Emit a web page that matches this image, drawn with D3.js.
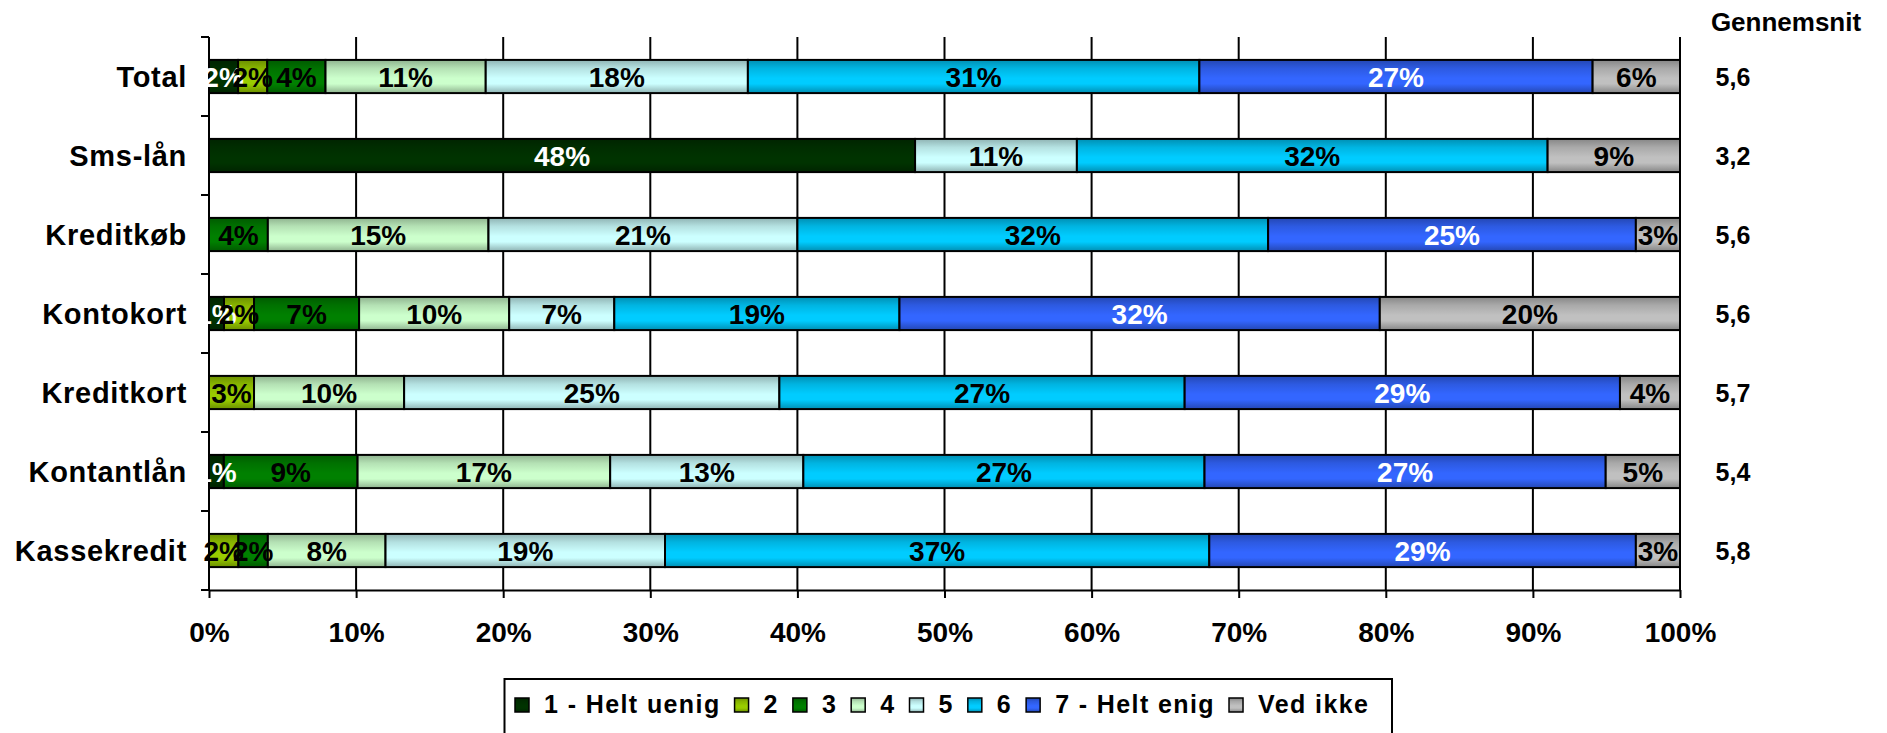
<!DOCTYPE html>
<html>
<head>
<meta charset="utf-8">
<script src="https://cdn.jsdelivr.net/npm/d3@7"></script>
<style>
  body { margin: 0; background: #fff; }
  svg { display: block; }
  text { font-family: "Liberation Sans", Arial, sans-serif; font-weight: bold; fill: #000; }
</style>
</head>
<body>
<svg id="chart" width="1887" height="733"></svg>
<script>
// ---------- data ----------
const categories = ["Total", "Sms-lån", "Kreditkøb", "Kontokort", "Kreditkort", "Kontantlån", "Kassekredit"];
const seriesNames = ["1 - Helt uenig", "2", "3", "4", "5", "6", "7 - Helt enig", "Ved ikke"];
const s1 = [2, 48, 0, 1, 0, 1, 0];
const s2 = [2, 0, 0, 2, 3, 0, 2];
const s3 = [4, 0, 4, 7, 0, 9, 2];
const s4 = [11, 0, 15, 10, 10, 17, 8];
const s5 = [18, 11, 21, 7, 25, 13, 19];
const s6 = [31, 32, 32, 19, 27, 27, 37];
const s7 = [27, 0, 25, 32, 29, 27, 29];
const sVedIkke = [6, 9, 3, 20, 4, 5, 3];
const averages = ["5,6", "3,2", "5,6", "5,6", "5,7", "5,4", "5,8"];
const averageTitle = "Gennemsnit";
const xTickValues = [0, 0.1, 0.2, 0.3, 0.4, 0.5, 0.6, 0.7, 0.8, 0.9, 1];
const seriesColors = ["#003300", "#99cc00", "#008000", "#ccffcc", "#ccffff", "#00ccff", "#3366ff", "#c0c0c0"];
const whiteLabelSeries = [0, 6];

// ---------- build table ----------
const seriesValues = [s1, s2, s3, s4, s5, s6, s7, sVedIkke];
const rows = categories.map((c, i) => {
  const r = { category: c };
  seriesNames.forEach((s, j) => { r[s] = seriesValues[j][i]; });
  return r;
});
const stacked = d3.stack().keys(seriesNames).offset(d3.stackOffsetExpand)(rows);

// ---------- layout ----------
const svg = d3.select("#chart");
const plotLeft = 209, plotRight = 1680, plotTop = 37, plotBottom = 590;

const x = d3.scaleLinear().domain([0, 1]).range([plotLeft, plotRight]);
const y = d3.scaleBand().domain(categories).range([plotTop, plotBottom])
  .paddingInner(0.58).paddingOuter(0.29);

// gradients
const defs = svg.append("defs");
seriesColors.forEach((col, i) => {
  const g = defs.append("linearGradient").attr("id", "grad" + i)
    .attr("x1", 0).attr("y1", 0).attr("x2", 0).attr("y2", 1);
  const dark = d3.color(col).darker(1.0).formatHex();
  const mid = d3.color(col).darker(0.35).formatHex();
  g.append("stop").attr("offset", "0%").attr("stop-color", dark);
  g.append("stop").attr("offset", "25%").attr("stop-color", mid);
  g.append("stop").attr("offset", "55%").attr("stop-color", col);
  g.append("stop").attr("offset", "72%").attr("stop-color", col);
  g.append("stop").attr("offset", "100%").attr("stop-color", dark);
});

// gridlines
svg.append("g").selectAll("line")
  .data(xTickValues.filter(d => d > 0))
  .join("line")
  .attr("x1", d => x(d)).attr("x2", d => x(d))
  .attr("y1", plotTop).attr("y2", plotBottom)
  .attr("stroke", "#000").attr("stroke-width", 2);

// x axis
const xAxis = svg.append("g")
  .attr("transform", `translate(0,${plotBottom})`)
  .call(d3.axisBottom(x).tickValues(xTickValues).tickFormat(d3.format(".0%"))
    .tickSizeInner(8).tickSizeOuter(0).tickPadding(24));
xAxis.select(".domain").attr("stroke", "#000").attr("stroke-width", 2);
xAxis.selectAll(".tick line").attr("stroke", "#000").attr("stroke-width", 2);
xAxis.selectAll(".tick text").attr("font-size", 28).attr("fill", "#000")
  .style("font-family", '"Liberation Sans", Arial, sans-serif').style("font-weight", "bold");

// y axis (line + ticks at band boundaries)
const yAxisG = svg.append("g");
yAxisG.append("line")
  .attr("x1", plotLeft).attr("x2", plotLeft)
  .attr("y1", plotTop).attr("y2", plotBottom)
  .attr("stroke", "#000").attr("stroke-width", 2);
const boundaries = d3.range(categories.length + 1).map(i => plotTop + i * y.step());
yAxisG.selectAll("line.tick").data(boundaries).join("line")
  .attr("class", "tick")
  .attr("x1", plotLeft - 8).attr("x2", plotLeft)
  .attr("y1", d => d).attr("y2", d => d)
  .attr("stroke", "#000").attr("stroke-width", 2);
yAxisG.selectAll("text").data(categories).join("text")
  .attr("x", 187)
  .attr("y", d => y(d) + y.bandwidth() / 2)
  .attr("dy", "0.36em")
  .attr("text-anchor", "end")
  .attr("font-size", 29)
  .style("letter-spacing", "0.7px")
  .text(d => d);

// bars
const layers = svg.append("g").selectAll("g")
  .data(stacked).join("g")
  .attr("fill", (d, i) => `url(#grad${i})`);
layers.selectAll("rect")
  .data(d => d.filter(p => p[1] - p[0] > 0))
  .join("rect")
  .attr("x", d => x(d[0]))
  .attr("y", d => y(d.data.category))
  .attr("width", d => x(d[1]) - x(d[0]))
  .attr("height", y.bandwidth())
  .attr("stroke", "#000").attr("stroke-width", 2);

// value labels
const labelsG = svg.append("g");
stacked.forEach((layer, i) => {
  labelsG.selectAll(null)
    .data(layer.filter(p => p.data[layer.key] > 0))
    .join("text")
    .attr("x", d => (x(d[0]) + x(d[1])) / 2)
    .attr("y", d => y(d.data.category) + y.bandwidth() / 2)
    .attr("dy", "0.36em")
    .attr("text-anchor", "middle")
    .attr("font-size", 28)
    .style("fill", whiteLabelSeries.includes(i) ? "#fff" : "#000")
    .text(d => d.data[layer.key] + "%");
});

// averages
svg.append("text")
  .attr("x", 1786).attr("y", 22).attr("dy", "0.36em")
  .attr("text-anchor", "middle").attr("font-size", 26)
  .text(averageTitle);
svg.append("g").selectAll("text").data(categories).join("text")
  .attr("x", 1733)
  .attr("y", d => y(d) + y.bandwidth() / 2)
  .attr("dy", "0.36em")
  .attr("text-anchor", "middle")
  .attr("font-size", 25)
  .text((d, i) => averages[i]);

// legend
const legend = svg.append("g");
legend.append("rect")
  .attr("x", 504.5).attr("y", 679).attr("width", 887.5).attr("height", 70)
  .attr("fill", "#fff").attr("stroke", "#000").attr("stroke-width", 2);
let lx = 515;
seriesNames.forEach((name, i) => {
  legend.append("rect")
    .attr("x", lx).attr("y", 698).attr("width", 14).attr("height", 14)
    .attr("fill", `url(#grad${i})`).attr("stroke", "#000").attr("stroke-width", 1.5);
  const t = legend.append("text")
    .attr("x", lx + 29).attr("y", 713)
    .attr("font-size", 25)
    .style("letter-spacing", "1.4px")
    .text(name);
  const w = t.node().getComputedTextLength();
  lx = lx + 29 + w + 14;
});
</script>
</body>
</html>
